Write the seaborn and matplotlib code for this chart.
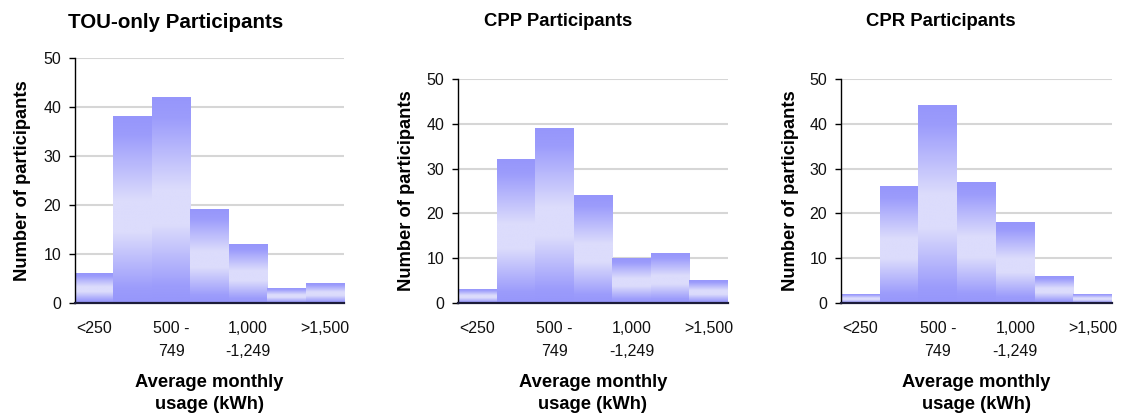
import numpy as np
import pandas as pd
import matplotlib
matplotlib.use("Agg")
import matplotlib.pyplot as plt
from matplotlib.colors import LinearSegmentedColormap
import seaborn as sns

# ─── Data ─────────────────────────────────────────────────────────────────────

bins = ["<250", "250 - 499", "500 - 749", "750 - 999",
        "1,000 - 1,249", "1,250 - 1,499", ">1,500"]
tick_labels = ["<250", "", "500 -\n749", "", "1,000\n-1,249", "", ">1,500"]

tou_counts = [6, 38, 42, 19, 12, 3, 4]
cpp_counts = [3, 32, 39, 24, 10, 11, 5]
cpr_counts = [2, 26, 44, 27, 18, 6, 2]

titles = ["TOU-only Participants", "CPP Participants", "CPR Participants"]
yticks = [0, 10, 20, 30, 40, 50]

# ─── Style ────────────────────────────────────────────────────────────────────

sns.set_theme(style="white")
plt.rcParams["font.family"] = ["Liberation Sans", "DejaVu Sans"]
plt.rcParams["text.color"] = "black"
plt.rcParams["axes.labelcolor"] = "black"

bar_cmap = LinearSegmentedColormap.from_list(
    "bar_grad",
    [(0.0, "#9696fb"), (0.08, "#9c9cfb"), (0.38, "#dcdcfc"),
     (0.55, "#dcdcfc"), (0.9, "#9c9cfb"), (1.0, "#9696fb")]
)
grad = np.linspace(0, 1, 256).reshape(-1, 1)

fig = plt.figure(figsize=(11.33, 4.13), dpi=100)

# axes boxes (left, bottom, width, height) in figure fractions
boxes = [
    (75 / 1133, 1 - 303 / 413, 269 / 1133, 245 / 413),
    (458 / 1133, 1 - 303 / 413, 270 / 1133, 224 / 413),
    (841 / 1133, 1 - 303 / 413, 271 / 1133, 224 / 413),
]
title_pos = [(176, 22, 14.8), (558, 21, 13.3), (941, 21, 13.3)]
ylabel_x = [31, 415, 799]   # right edge of the rotated y label, in pixels

for i, counts in enumerate([tou_counts, cpp_counts, cpr_counts]):
    ax = fig.add_axes(boxes[i])
    df = pd.DataFrame({"bin": bins, "count": counts})

    sns.barplot(data=df, x="bin", y="count", order=bins, width=1.0,
                color="#9c9cfb", edgecolor="none", linewidth=0, ax=ax, zorder=2)

    # gradient fill over each bar
    for p in ax.patches:
        x0, y0 = p.get_x(), p.get_y()
        w, h = p.get_width(), p.get_height()
        if h <= 0:
            continue
        ax.imshow(grad, cmap=bar_cmap, origin="lower", aspect="auto",
                  extent=(x0, x0 + w, y0, y0 + h), zorder=3, interpolation="bilinear")

    ax.set_xlim(-0.5, len(bins) - 0.5)
    ax.set_ylim(0, 50)
    ax.set_yticks(yticks)
    ax.set_yticklabels([str(t) for t in yticks], fontsize=11.5, color="#111111")
    ax.set_xticks(range(len(bins)))
    ax.set_xticklabels(tick_labels, fontsize=11.5, linespacing=1.65, color="#111111")

    ax.tick_params(axis="y", which="major", left=True, length=4, width=1,
                   color="black", pad=6)
    ax.tick_params(axis="x", which="major", bottom=False, length=0, pad=13)

    ax.grid(axis="y", color="#d6d6d6", linewidth=1.5, zorder=0)
    ax.set_axisbelow(True)

    for side in ["top", "right"]:
        ax.spines[side].set_visible(False)
    ax.spines["left"].set_color("black")
    ax.spines["left"].set_linewidth(1.0)
    ax.spines["bottom"].set_color("#1c1c3a")
    ax.spines["bottom"].set_linewidth(1.6)
    ax.spines["left"].set_zorder(5)
    ax.spines["bottom"].set_zorder(5)

    ax.set_xlabel("Average monthly\nusage (kWh)", fontsize=13.2,
                  fontweight="bold", linespacing=1.35, labelpad=11)
    ax.set_ylabel("Number of participants", fontsize=13.2, fontweight="bold")

    # put y label at a fixed pixel position like the reference
    bx = boxes[i]
    lx = (ylabel_x[i] / 1133 - bx[0]) / bx[2]
    ax.yaxis.set_label_coords(lx, 0.5)

    tx, ty, tfs = title_pos[i]
    fig.text(tx / 1133, 1 - ty / 413, titles[i], ha="center", va="center",
             fontsize=tfs, fontweight="bold")

plt.savefig("out.png", dpi=100)
plt.close()
